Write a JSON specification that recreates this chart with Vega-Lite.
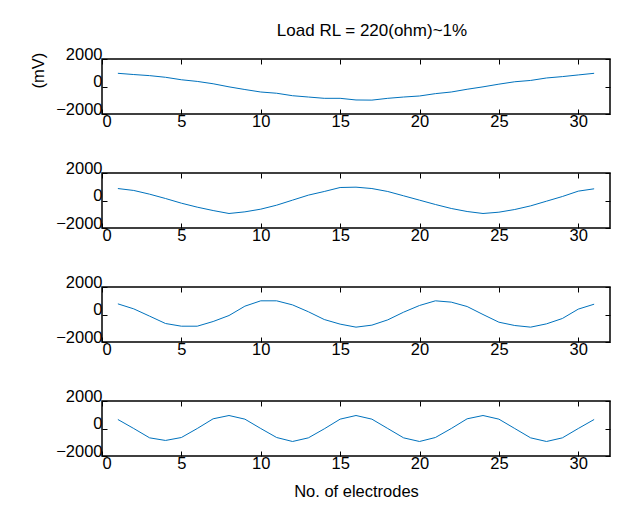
{
  "$schema": "https://vega.github.io/schema/vega-lite/v6.json",
  "padding": {"left": 29, "top": 21, "right": 10, "bottom": 4},
  "background": "white",
  "data": {"values": [
    {"panel": 1, "e": 1, "v": 960}, {"panel": 1, "e": 2, "v": 870}, {"panel": 1, "e": 3, "v": 790}, {"panel": 1, "e": 4, "v": 670}, {"panel": 1, "e": 5, "v": 490}, {"panel": 1, "e": 6, "v": 370}, {"panel": 1, "e": 7, "v": 200}, {"panel": 1, "e": 8, "v": -25}, {"panel": 1, "e": 9, "v": -220}, {"panel": 1, "e": 10, "v": -400}, {"panel": 1, "e": 11, "v": -490}, {"panel": 1, "e": 12, "v": -670}, {"panel": 1, "e": 13, "v": -765}, {"panel": 1, "e": 14, "v": -860}, {"panel": 1, "e": 15, "v": -860}, {"panel": 1, "e": 16, "v": -980}, {"panel": 1, "e": 17, "v": -990}, {"panel": 1, "e": 18, "v": -860}, {"panel": 1, "e": 19, "v": -765}, {"panel": 1, "e": 20, "v": -690}, {"panel": 1, "e": 21, "v": -520}, {"panel": 1, "e": 22, "v": -400}, {"panel": 1, "e": 23, "v": -200}, {"panel": 1, "e": 24, "v": -25}, {"panel": 1, "e": 25, "v": 170}, {"panel": 1, "e": 26, "v": 345}, {"panel": 1, "e": 27, "v": 440}, {"panel": 1, "e": 28, "v": 620}, {"panel": 1, "e": 29, "v": 720}, {"panel": 1, "e": 30, "v": 840}, {"panel": 1, "e": 31, "v": 960},
    {"panel": 2, "e": 1, "v": 870}, {"panel": 2, "e": 2, "v": 730}, {"panel": 2, "e": 3, "v": 460}, {"panel": 2, "e": 4, "v": 145}, {"panel": 2, "e": 5, "v": -195}, {"panel": 2, "e": 6, "v": -485}, {"panel": 2, "e": 7, "v": -730}, {"panel": 2, "e": 8, "v": -945}, {"panel": 2, "e": 9, "v": -825}, {"panel": 2, "e": 10, "v": -630}, {"panel": 2, "e": 11, "v": -340}, {"panel": 2, "e": 12, "v": 25}, {"panel": 2, "e": 13, "v": 390}, {"panel": 2, "e": 14, "v": 655}, {"panel": 2, "e": 15, "v": 945}, {"panel": 2, "e": 16, "v": 970}, {"panel": 2, "e": 17, "v": 870}, {"panel": 2, "e": 18, "v": 655}, {"panel": 2, "e": 19, "v": 340}, {"panel": 2, "e": 20, "v": 25}, {"panel": 2, "e": 21, "v": -290}, {"panel": 2, "e": 22, "v": -580}, {"panel": 2, "e": 23, "v": -800}, {"panel": 2, "e": 24, "v": -945}, {"panel": 2, "e": 25, "v": -850}, {"panel": 2, "e": 26, "v": -655}, {"panel": 2, "e": 27, "v": -390}, {"panel": 2, "e": 28, "v": -50}, {"panel": 2, "e": 29, "v": 290}, {"panel": 2, "e": 30, "v": 680}, {"panel": 2, "e": 31, "v": 850},
    {"panel": 3, "e": 1, "v": 775}, {"panel": 3, "e": 2, "v": 410}, {"panel": 3, "e": 3, "v": -120}, {"panel": 3, "e": 4, "v": -655}, {"panel": 3, "e": 5, "v": -850}, {"panel": 3, "e": 6, "v": -850}, {"panel": 3, "e": 7, "v": -510}, {"panel": 3, "e": 8, "v": -75}, {"panel": 3, "e": 9, "v": 605}, {"panel": 3, "e": 10, "v": 995}, {"panel": 3, "e": 11, "v": 995}, {"panel": 3, "e": 12, "v": 700}, {"panel": 3, "e": 13, "v": 200}, {"panel": 3, "e": 14, "v": -365}, {"panel": 3, "e": 15, "v": -700}, {"panel": 3, "e": 16, "v": -920}, {"panel": 3, "e": 17, "v": -775}, {"panel": 3, "e": 18, "v": -390}, {"panel": 3, "e": 19, "v": 170}, {"panel": 3, "e": 20, "v": 655}, {"panel": 3, "e": 21, "v": 995}, {"panel": 3, "e": 22, "v": 900}, {"panel": 3, "e": 23, "v": 580}, {"panel": 3, "e": 24, "v": 0}, {"panel": 3, "e": 25, "v": -560}, {"panel": 3, "e": 26, "v": -800}, {"panel": 3, "e": 27, "v": -920}, {"panel": 3, "e": 28, "v": -680}, {"panel": 3, "e": 29, "v": -290}, {"panel": 3, "e": 30, "v": 390}, {"panel": 3, "e": 31, "v": 750},
    {"panel": 4, "e": 1, "v": 655}, {"panel": 4, "e": 2, "v": 0}, {"panel": 4, "e": 3, "v": -680}, {"panel": 4, "e": 4, "v": -870}, {"panel": 4, "e": 5, "v": -655}, {"panel": 4, "e": 6, "v": 0}, {"panel": 4, "e": 7, "v": 705}, {"panel": 4, "e": 8, "v": 945}, {"panel": 4, "e": 9, "v": 680}, {"panel": 4, "e": 10, "v": 0}, {"panel": 4, "e": 11, "v": -655}, {"panel": 4, "e": 12, "v": -945}, {"panel": 4, "e": 13, "v": -680}, {"panel": 4, "e": 14, "v": -25}, {"panel": 4, "e": 15, "v": 680}, {"panel": 4, "e": 16, "v": 945}, {"panel": 4, "e": 17, "v": 680}, {"panel": 4, "e": 18, "v": 0}, {"panel": 4, "e": 19, "v": -680}, {"panel": 4, "e": 20, "v": -945}, {"panel": 4, "e": 21, "v": -655}, {"panel": 4, "e": 22, "v": 0}, {"panel": 4, "e": 23, "v": 705}, {"panel": 4, "e": 24, "v": 945}, {"panel": 4, "e": 25, "v": 680}, {"panel": 4, "e": 26, "v": 0}, {"panel": 4, "e": 27, "v": -680}, {"panel": 4, "e": 28, "v": -945}, {"panel": 4, "e": 29, "v": -680}, {"panel": 4, "e": 30, "v": 0}, {"panel": 4, "e": 31, "v": 655}
  ]},
  "spacing": 28,
  "vconcat": [
    {
      "width": 508, "height": 55,
      "title": {"text": "Load RL = 220(ohm)~1%", "dx": 16, "offset": 6, "fontSize": 17},
      "transform": [{"filter": "datum.panel == 1"}],
      "layer": [
        {"mark": {"type": "line", "color": "#0072BD", "strokeWidth": 1},
         "encoding": {
           "x": {"field": "e", "type": "quantitative", "scale": {"domain": [0, 32], "nice": false}, "axis": {"orient": "bottom", "values": [0,5,10,15,20,25,30], "title": null}},
           "y": {"field": "v", "type": "quantitative", "scale": {"domain": [-2000, 2000], "nice": false}, "axis": {"orient": "left", "values": [-2000,0,2000], "title": "(mV)", "titleY": 11}}
         }},
        {"mark": {"type": "line", "opacity": 0},
         "encoding": {
           "x": {"field": "e", "type": "quantitative", "axis": {"orient": "top", "values": [0,5,10,15,20,25,30], "labels": false, "title": null}},
           "y": {"field": "v", "type": "quantitative", "axis": {"orient": "right", "values": [-2000,0,2000], "labels": false, "title": null}}
         }}
      ],
      "resolve": {"axis": {"x": "independent", "y": "independent"}}
    },
    {
      "width": 508, "height": 55,
      "transform": [{"filter": "datum.panel == 2"}],
      "layer": [
        {"mark": {"type": "line", "color": "#0072BD", "strokeWidth": 1},
         "encoding": {
           "x": {"field": "e", "type": "quantitative", "scale": {"domain": [0, 32], "nice": false}, "axis": {"orient": "bottom", "values": [0,5,10,15,20,25,30], "title": null}},
           "y": {"field": "v", "type": "quantitative", "scale": {"domain": [-2000, 2000], "nice": false}, "axis": {"orient": "left", "values": [-2000,0,2000], "title": null}}
         }},
        {"mark": {"type": "line", "opacity": 0},
         "encoding": {
           "x": {"field": "e", "type": "quantitative", "axis": {"orient": "top", "values": [0,5,10,15,20,25,30], "labels": false, "title": null}},
           "y": {"field": "v", "type": "quantitative", "axis": {"orient": "right", "values": [-2000,0,2000], "labels": false, "title": null}}
         }}
      ],
      "resolve": {"axis": {"x": "independent", "y": "independent"}}
    },
    {
      "width": 508, "height": 55,
      "transform": [{"filter": "datum.panel == 3"}],
      "layer": [
        {"mark": {"type": "line", "color": "#0072BD", "strokeWidth": 1},
         "encoding": {
           "x": {"field": "e", "type": "quantitative", "scale": {"domain": [0, 32], "nice": false}, "axis": {"orient": "bottom", "values": [0,5,10,15,20,25,30], "title": null}},
           "y": {"field": "v", "type": "quantitative", "scale": {"domain": [-2000, 2000], "nice": false}, "axis": {"orient": "left", "values": [-2000,0,2000], "title": null}}
         }},
        {"mark": {"type": "line", "opacity": 0},
         "encoding": {
           "x": {"field": "e", "type": "quantitative", "axis": {"orient": "top", "values": [0,5,10,15,20,25,30], "labels": false, "title": null}},
           "y": {"field": "v", "type": "quantitative", "axis": {"orient": "right", "values": [-2000,0,2000], "labels": false, "title": null}}
         }}
      ],
      "resolve": {"axis": {"x": "independent", "y": "independent"}}
    },
    {
      "width": 508, "height": 55,
      "transform": [{"filter": "datum.panel == 4"}],
      "layer": [
        {"mark": {"type": "line", "color": "#0072BD", "strokeWidth": 1},
         "encoding": {
           "x": {"field": "e", "type": "quantitative", "scale": {"domain": [0, 32], "nice": false}, "axis": {"orient": "bottom", "values": [0,5,10,15,20,25,30], "title": "No. of electrodes", "titlePadding": 12}},
           "y": {"field": "v", "type": "quantitative", "scale": {"domain": [-2000, 2000], "nice": false}, "axis": {"orient": "left", "values": [-2000,0,2000], "title": null}}
         }},
        {"mark": {"type": "line", "opacity": 0},
         "encoding": {
           "x": {"field": "e", "type": "quantitative", "axis": {"orient": "top", "values": [0,5,10,15,20,25,30], "labels": false, "title": null}},
           "y": {"field": "v", "type": "quantitative", "axis": {"orient": "right", "values": [-2000,0,2000], "labels": false, "title": null}}
         }}
      ],
      "resolve": {"axis": {"x": "independent", "y": "independent"}}
    }
  ],
  "config": {
    "font": "Liberation Sans",
    "view": {"stroke": "black", "strokeWidth": 1.5},
    "title": {"fontSize": 16.5, "fontWeight": "normal", "color": "black", "font": "Liberation Sans"},
    "axis": {
      "grid": false,
      "domain": false,
      "tickColor": "black",
      "tickSize": -5,
      "tickWidth": 1,
      "labelColor": "black",
      "labelFontSize": 16.5,
      "labelFont": "Liberation Sans",
      "titleColor": "black",
      "titleFontSize": 16.5,
      "titleFontWeight": "normal",
      "titleFont": "Liberation Sans",
      "format": "d"
    },
    "axisX": {"labelPadding": 4, "titlePadding": 6},
    "axisY": {"labelPadding": 5, "labelOffset": -5, "titlePadding": 9}
  }
}
